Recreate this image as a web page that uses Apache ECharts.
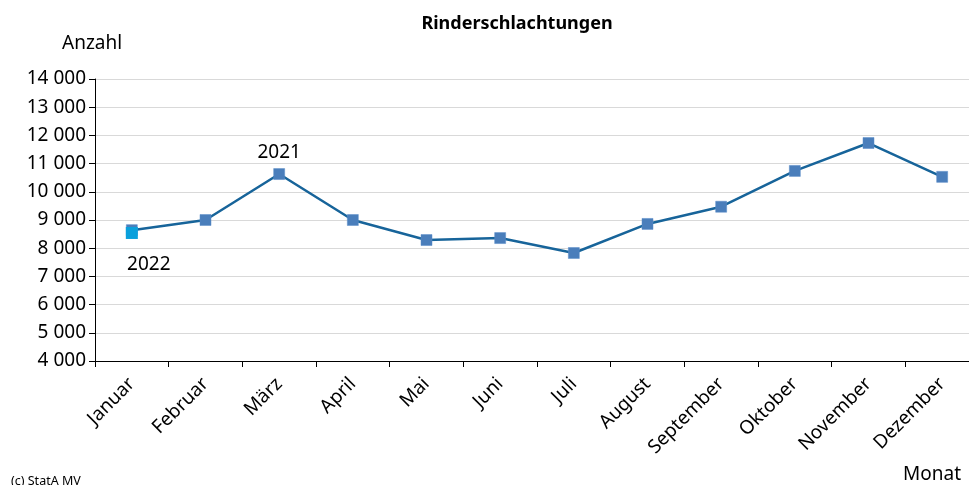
<!DOCTYPE html>
<html><head><meta charset="utf-8">
<script src="https://cdn.jsdelivr.net/npm/echarts@6/dist/echarts.min.js"></script>
<style>html,body{margin:0;padding:0;background:#fff;overflow:hidden;width:969px;height:485px}#c{width:990px;height:485px}</style>
</head><body><div id="c"></div>
<script>
const months = ['Januar','Februar','März','April','Mai','Juni','Juli','August','September','Oktober','November','Dezember'];
const values2021 = [8640, 9000, 10630, 9000, 8290, 8360, 7830, 8860, 9470, 10740, 11730, 10530];
const values2022 = [8540, null, null, null, null, null, null, null, null, null, null, null];
const yTicks = {min: 4000, max: 14000, step: 1000};

const FONT = '"Noto Sans", "Liberation Sans", sans-serif';
const fmt = v => String(v).replace(/\B(?=(\d{3})+(?!\d))/g, '\u00a0');

const chart = echarts.init(document.getElementById('c'), null, {renderer: 'canvas'});
chart.setOption({
  animation: false,
  backgroundColor: '#fff',
  textStyle: {fontFamily: FONT},
  title: {
    text: 'Rinderschlachtungen', left: 512, top: 10, textAlign: 'center',
    textStyle: {fontFamily: FONT, fontSize: 18, fontWeight: 'bold', color: '#000'}
  },
  graphic: [
    {type: 'text', left: 62, top: 34, style: {text: 'Anzahl', font: '19px ' + FONT, fill: '#000'}},
    {type: 'text', left: 903, top: 465, style: {text: 'Monat', font: '19px ' + FONT, fill: '#000'}},
    {type: 'text', left: 11, top: 475, style: {text: '(c) StatA MV', font: '12.5px ' + FONT, fill: '#000'}}
  ],
  grid: {left: 95, right: 11, top: 79, bottom: 124, containLabel: false},
  xAxis: {
    type: 'category', data: months, boundaryGap: true,
    axisLine: {lineStyle: {color: '#000', width: 1}},
    axisTick: {show: true, length: 6, lineStyle: {color: '#000'}},
    axisLabel: {rotate: 45, fontSize: 19, color: '#000', margin: 20, interval: 0, fontFamily: FONT}
  },
  yAxis: {
    type: 'value', min: yTicks.min, max: yTicks.max, interval: yTicks.step,
    axisLine: {show: true, lineStyle: {color: '#000', width: 1}},
    axisTick: {show: true, length: 6, lineStyle: {color: '#000'}},
    splitLine: {lineStyle: {color: '#d9d9d9', width: 1}},
    axisLabel: {fontSize: 19, color: '#000', margin: 9, formatter: fmt, fontFamily: FONT}
  },
  series: [
    {
      name: '2021', type: 'line', data: values2021.map((v, i) => i === 2 ? {value: v, label: {show: true, position: 'top', distance: 6, formatter: '2021'}} : v),
      symbol: 'rect', symbolSize: 11, showAllSymbol: true,
      lineStyle: {color: '#17649a', width: 2.5},
      itemStyle: {color: '#4a7ebb', borderColor: '#5b8cc8', borderWidth: 0.5},
      label: {show: false, fontSize: 19, color: '#000', fontFamily: FONT},
      z: 2
    },
    {
      name: '2022', type: 'line', data: values2022.map((v, i) => i === 0 ? {value: v, label: {show: true, position: 'bottom', distance: 16, offset: [17, 0], formatter: '2022'}} : v),
      symbol: 'rect', symbolSize: 12, showAllSymbol: true,
      lineStyle: {color: '#0aa0dc', width: 2.5},
      itemStyle: {color: '#0aa0dc'},
      label: {show: false, fontSize: 19, color: '#000', fontFamily: FONT},
      z: 3
    }
  ]
});
</script>
</body></html>
